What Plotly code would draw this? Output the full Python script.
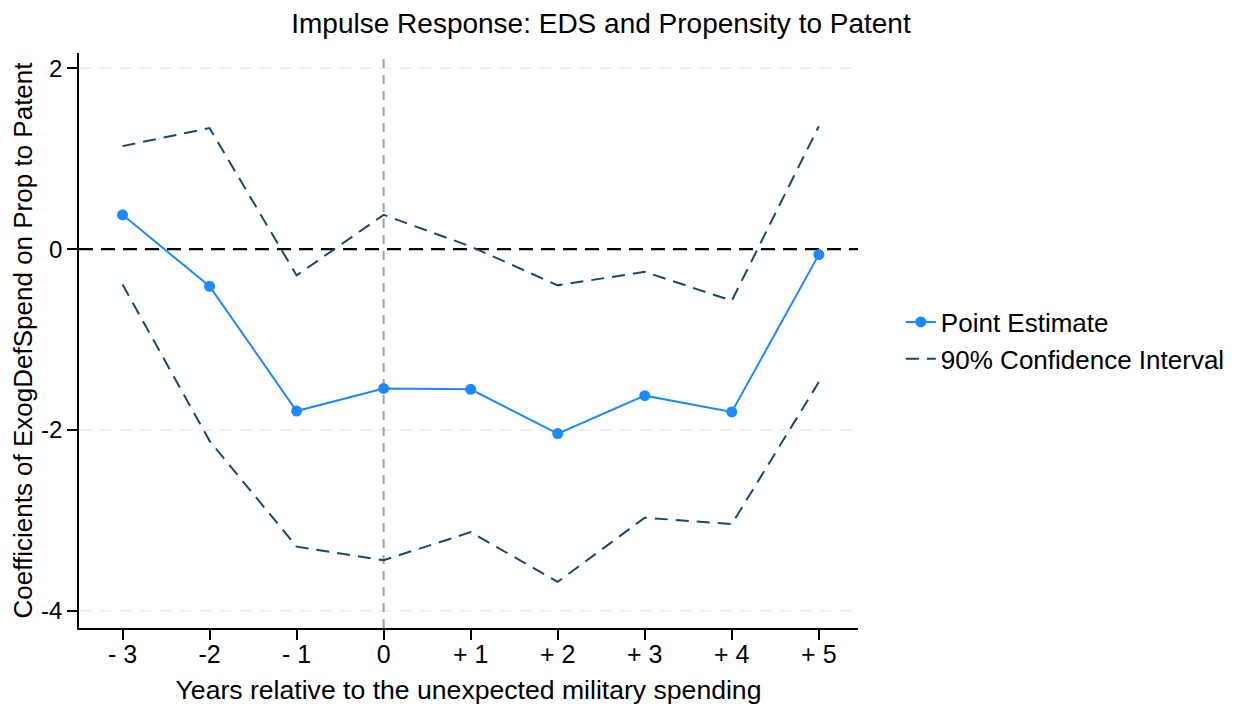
import plotly.graph_objects as go

periods = [-3, -2, -1, 0, 1, 2, 3, 4, 5]
tick_labels = ["- 3", "-2", "- 1", "0", "+ 1", "+ 2", "+ 3", "+ 4", "+ 5"]
point_estimate = [0.38, -0.41, -1.79, -1.54, -1.55, -2.04, -1.62, -1.80, -0.06]
ci_upper = [1.14, 1.34, -0.29, 0.38, 0.03, -0.40, -0.25, -0.57, 1.36]
ci_lower = [-0.39, -2.12, -3.29, -3.44, -3.13, -3.68, -2.97, -3.04, -1.47]
y_ticks = [-4, -2, 0, 2]

navy = "#1a476f"
blue = "#1e88ff"
font = "Liberation Sans, Helvetica, Arial, sans-serif"

fig = go.Figure()
fig.add_trace(go.Scatter(x=periods, y=point_estimate, mode="lines+markers",
                         name="Point Estimate",
                         line=dict(color=blue, width=2),
                         marker=dict(color=blue, size=11)))
fig.add_trace(go.Scatter(x=periods, y=ci_upper, mode="lines",
                         name="90% Confidence Interval",
                         line=dict(color=navy, width=2, dash="13px,8px")))
fig.add_trace(go.Scatter(x=periods, y=ci_lower, mode="lines",
                         showlegend=False,
                         line=dict(color=navy, width=2, dash="13px,8px")))

# horizontal grid lines (except at zero, where the reference line sits)
for v in y_ticks:
    if v != 0:
        fig.add_shape(type="line", xref="paper", yref="y", x0=0, x1=1, y0=v, y1=v,
                      line=dict(color="#ebebeb", width=1.5, dash="12px,8px"),
                      layer="below")
# reference lines
fig.add_shape(type="line", xref="paper", yref="y", x0=0, x1=1, y0=0, y1=0,
              line=dict(color="black", width=2.2, dash="14px,8px"), layer="below")
fig.add_shape(type="line", xref="x", yref="paper", x0=0, x1=0, y0=0, y1=1,
              line=dict(color="#a0a0a0", width=2, dash="9px,7px"), layer="below")

fig.update_layout(
    width=1242, height=713,
    paper_bgcolor="white", plot_bgcolor="white",
    margin=dict(l=71, r=392, t=45, b=93),
    title=dict(text="Impulse Response: EDS and Propensity to Patent",
               x=593/1242, xanchor="center", y=1-5/713, yanchor="top",
               pad=dict(t=0),
               font=dict(family=font, size=28, color="black")),
    legend=dict(x=1.055, y=0.5, xanchor="left", yanchor="middle",
                font=dict(family=font, size=26, color="black"),
                tracegroupgap=0),
    xaxis=dict(range=[-3.5, 5.45], tickmode="array", tickvals=periods,
               ticktext=tick_labels, showgrid=False, zeroline=False,
               showline=True, linecolor="black", linewidth=1.5,
               ticks="outside", ticklen=10, tickwidth=1.5, tickcolor="black",
               automargin=False, ticklabelstandoff=-7,
               tickfont=dict(family=font, size=25, color="black"),
               title=dict(text="Years relative to the unexpected military spending",
                          font=dict(family=font, size=26.6, color="black"),
                          standoff=14)),
    yaxis=dict(range=[-4.19, 2.17], tickmode="array", tickvals=y_ticks,
               ticktext=[str(v) for v in y_ticks],
               showgrid=False, zeroline=False,
               showline=True, linecolor="black", linewidth=1.5,
               ticks="outside", ticklen=10, tickwidth=1.5, tickcolor="black",
               automargin=False, ticklabelstandoff=0,
               tickfont=dict(family=font, size=24, color="black"),
               title=dict(text="Coefficients of ExogDefSpend on Prop to Patent",
                          font=dict(family=font, size=26, color="black"),
                          standoff=2)),
)

fig.write_html("out.html")
